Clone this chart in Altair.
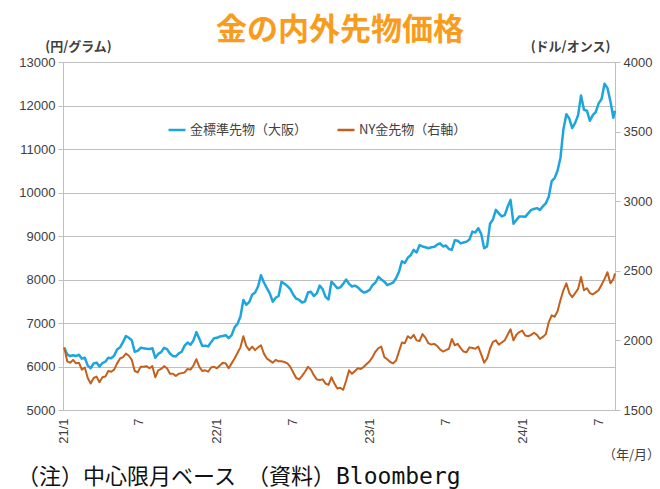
import altair as alt
import pandas as pd

TITLE = "金の内外先物価格"
SERIES = ["金標準先物（大阪）", "NY金先物（右軸）"]
COLORS = ["#1FA5DE", "#C5601C"]
LEFT_TITLE = "(円/グラム)"
RIGHT_TITLE = "(ドル/オンス)"
FOOT_JP = "（注）中心限月ベース　（資料）"
FOOT_SRC = "Bloomberg"
UNIT = "（年/月）"

LEFT_TICKS = [5000, 6000, 7000, 8000, 9000, 10000, 11000, 12000, 13000]
RIGHT_TICKS = [1500, 2000, 2500, 3000, 3500, 4000]
X_TICK_YEARS = [2021, 2022, 2023, 2024]
X_TICK_MONTHS = [1, 7]

# weekly observations (Mondays from 2021-01-04) + last obs 2024-08-09
osaka_2021 = [6430, 6280, 6240, 6260, 6240, 6270, 6180, 6200, 6020, 5960,
              6070, 6090, 6000, 6080, 6110, 6200, 6190, 6250, 6390, 6440,
              6560, 6700, 6660, 6600, 6340, 6360, 6430, 6420, 6410, 6400,
              6420, 6200, 6290, 6330, 6430, 6400, 6300, 6240, 6230, 6300,
              6340, 6480, 6550, 6500, 6600, 6790, 6640, 6470, 6480, 6460,
              6560, 6650]
osaka_2022 = [6660, 6690, 6700, 6720, 6650, 6720, 6900, 6980, 7150, 7530,
              7420, 7480, 7650, 7700, 7840, 8100, 7930, 7800, 7680, 7490,
              7580, 7620, 7950, 7900, 7850, 7780, 7650, 7560, 7530, 7470,
              7500, 7700, 7720, 7620, 7680, 7860, 7780, 7600, 7540, 7950,
              7880, 7800, 7820, 7900, 8000, 7900, 7840, 7860, 7820, 7750,
              7700, 7720]
osaka_2023 = [7760, 7870, 7930, 8060, 8000, 7950, 7870, 7900, 7930, 8030,
              8180, 8420, 8380, 8500, 8560, 8680, 8620, 8790, 8760, 8740,
              8720, 8740, 8750, 8800, 8830, 8760, 8780, 8700, 8680, 8900,
              8890, 8830, 8850, 8870, 8920, 9100, 9080, 9180, 9050, 8720,
              8760, 9280, 9380, 9600, 9520, 9450, 9480, 9670, 9830, 9280,
              9370, 9450]
osaka_2024 = [9450, 9440, 9520, 9600, 9620, 9640, 9600, 9680, 9750, 9900,
              10260, 10330, 10500, 10800, 11450, 11800, 11700, 11480, 11600, 11780,
              12230, 11900, 11880, 11650, 11780, 11850, 12050, 12150, 12500, 12400,
              12100, 11720, 11880]

ny_2021 = [1950, 1850, 1840, 1860, 1835, 1840, 1790, 1805, 1730, 1690,
           1730, 1740, 1700, 1735, 1740, 1780, 1775, 1790, 1835, 1870,
           1880, 1905, 1890, 1860, 1780, 1770, 1810, 1810, 1815, 1800,
           1815, 1735, 1785, 1795, 1815, 1800, 1760, 1760, 1745, 1760,
           1765, 1770, 1795, 1790, 1820, 1865, 1810, 1780, 1785, 1775,
           1805, 1810]
ny_2022 = [1800, 1820, 1840, 1835, 1800, 1835, 1870, 1910, 1950, 2030,
           1960, 1930, 1955, 1930, 1950, 1965, 1905, 1870, 1855, 1840,
           1860, 1850, 1850, 1845, 1835, 1810, 1770, 1730, 1720, 1745,
           1775, 1810, 1790, 1750, 1720, 1715, 1720, 1690, 1680, 1735,
           1690, 1655, 1660, 1645, 1710, 1785, 1760, 1780, 1800, 1795,
           1810, 1830]
ny_2023 = [1850, 1880, 1920, 1945, 1955, 1880, 1865, 1845, 1835, 1855,
           1920, 1985, 1980, 2030, 2015, 2040, 2000, 1995, 2045, 2020,
           1980, 1970, 1975, 1960, 1935, 1920, 1930, 1940, 2010, 1965,
           1975, 1945, 1920, 1915, 1950, 1945, 1940, 1955, 1900, 1840,
           1870, 1940, 1990, 2000, 1970, 1985, 2000, 2040, 2080, 2000,
           2040, 2060]
ny_2024 = [2070, 2035, 2030, 2040, 2055, 2040, 2010, 2025, 2045, 2130,
           2180, 2170, 2210, 2290, 2360, 2410, 2340, 2310, 2340, 2370,
           2455, 2360, 2375, 2340, 2330, 2345, 2360, 2400, 2440, 2490,
           2410, 2440, 2480]

dates = list(pd.date_range("2021-01-04", "2024-08-05", freq="7D").strftime("%Y-%m-%d")) + ["2024-08-09"]
osaka = osaka_2021 + osaka_2022 + osaka_2023 + osaka_2024
ny = ny_2021 + ny_2022 + ny_2023 + ny_2024

df_jp = pd.DataFrame({"date": dates, "value": osaka, "series": SERIES[0]})
df_ny = pd.DataFrame({"date": dates, "value": ny, "series": SERIES[1]})

FONT_JP = "Noto Sans CJK JP"
FONT_NUM = "Liberation Sans"
GRID = "#BFBFBF"
TEXT = "#404040"
ORANGE = "#F99B1C"

x_enc = alt.X(
    "date:T",
    title=None,
    scale=alt.Scale(domain=[alt.DateTime(year=2021, month=1, date=1, utc=True),
                            alt.DateTime(year=2024, month=8, date=9, utc=True)]),
    axis=alt.Axis(
        values=[alt.DateTime(year=y, month=m, date=1, utc=True)
                for y in X_TICK_YEARS for m in X_TICK_MONTHS],
        labelExpr="utcmonth(datum.value) == 0 ? utcFormat(datum.value, '%y') + '/1' : '7'",
        labelAngle=-90, ticks=False, grid=False, domainColor=GRID, domainWidth=1,
        labelFont=FONT_NUM, labelFontSize=13, labelColor=TEXT, labelPadding=8,
    ),
)

color_enc = alt.Color(
    "series:N",
    scale=alt.Scale(domain=SERIES, range=COLORS),
    legend=alt.Legend(
        orient="none", legendX=104, legendY=58, direction="horizontal", title=None,
        symbolType="stroke", symbolStrokeWidth=2.5, symbolSize=289,
        labelFont=FONT_JP, labelFontSize=13, labelColor=TEXT, labelOffset=3,
        columnPadding=24, labelLimit=300,
    ),
)

left = alt.Chart(df_jp).mark_line(strokeWidth=2.5, strokeJoin="round").encode(
    x=x_enc,
    y=alt.Y("value:Q",
            scale=alt.Scale(domain=[5000, 13000], nice=False, zero=False),
            axis=alt.Axis(orient="left", values=LEFT_TICKS, format="d", grid=True, gridColor=GRID,
                          gridWidth=1, domainColor=GRID, tickColor=GRID, tickSize=5,
                          labelFont=FONT_NUM, labelFontSize=13, labelColor=TEXT, labelPadding=3,
                          title=LEFT_TITLE, titleAngle=0, titleX=15, titleY=-9,
                          titleAlign="center", titleBaseline="bottom", titleFont=FONT_JP,
                          titleFontSize=13, titleFontWeight="bold", titleColor=TEXT)),
    color=color_enc,
)

right = alt.Chart(df_ny).mark_line(strokeWidth=2, strokeJoin="round").encode(
    x=x_enc,
    y=alt.Y("value:Q",
            scale=alt.Scale(domain=[1500, 4000], nice=False, zero=False),
            axis=alt.Axis(orient="right", values=RIGHT_TICKS, format="d", grid=False,
                          domainColor=GRID, tickColor=GRID, tickSize=5,
                          labelFont=FONT_NUM, labelFontSize=13, labelColor=TEXT, labelPadding=3,
                          title=RIGHT_TITLE, titleAngle=0, titleX=-45, titleY=-9,
                          titleAlign="center", titleBaseline="bottom", titleFont=FONT_JP,
                          titleFontSize=13, titleFontWeight="bold", titleColor=TEXT)),
    color=color_enc,
)

title = alt.Chart(pd.DataFrame({"t": [TITLE]})).mark_text(
    font=FONT_JP, fontSize=31, fontWeight="bold", align="center", baseline="alphabetic",
    color=ORANGE
).encode(text="t:N", x=alt.value(277), y=alt.value(-22))

foot1 = alt.Chart(pd.DataFrame({"t": [FOOT_JP]})).mark_text(
    font=FONT_JP, fontSize=22, align="left", baseline="alphabetic", color="#111111"
).encode(text="t:N", x=alt.value(-46), y=alt.value(422))

foot2 = alt.Chart(pd.DataFrame({"t": [FOOT_SRC]})).mark_text(
    font="DejaVu Sans Mono", fontSize=23, align="left", baseline="alphabetic", color="#111111"
).encode(text="t:N", x=alt.value(273), y=alt.value(422))

unit = alt.Chart(pd.DataFrame({"t": [UNIT]})).mark_text(
    font=FONT_JP, fontSize=13, align="right", baseline="middle", color=TEXT
).encode(text="t:N", x=alt.value(597), y=alt.value(393))

chart = alt.layer(left, right, title, foot1, foot2, unit).resolve_scale(
    y="independent"
).properties(
    width=552, height=348,
    autosize=alt.AutoSizeParams(type="none"),
    padding={"left": 63, "top": 62, "right": 45, "bottom": 79},
).configure_view(strokeWidth=0).configure(background="white")

chart.save("out.html", embed_options={"renderer": "svg", "actions": False})
